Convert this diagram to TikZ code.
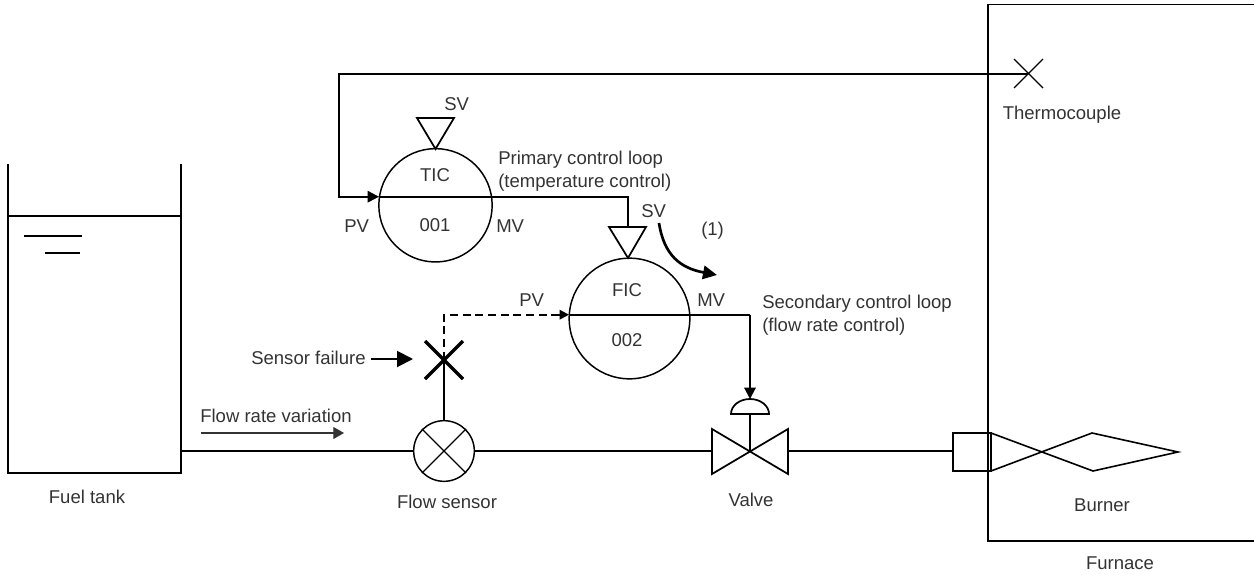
\documentclass[tikz,border=0pt]{standalone}
\usepackage{fontspec}
\setmainfont{Liberation Sans}
\usetikzlibrary{arrows.meta,calc}
\definecolor{txt}{HTML}{333333}
\tikzset{
  x=0.75pt,y=-0.75pt,
  thin line/.style={line width=1pt,black},
  main line/.style={line width=1.5pt,black},
  tip/.style={-{Triangle[length=8.5pt,width=8.5pt]}},
  lbl/.style={inner sep=0pt,text=txt,font=\fontsize{13.9}{17.2}\selectfont},
  lblleft/.style={lbl,anchor=west,align=left},
  ctrl/.style={circle,draw,line width=1.1pt,inner sep=0pt,minimum size=84pt},
}
\begin{document}
\begin{tikzpicture}[line join=miter]
\useasboundingbox (0,0) rectangle (1254,575);
% furnace
\draw[thin line] (1254,4.7) -- (988,4.7) -- (988,541) -- (1254,541);
% tank
\draw[main line] (8,164) -- (8,473) -- (181,473) -- (181,164);
\draw[main line] (8,216) -- (181,216);
\draw[main line] (24,236) -- (82,236);
\draw[main line] (45,253) -- (80,253);
% instruments
\node[ctrl,minimum size=85pt] (tic) at (435.5,205.3) {};
\node[ctrl,minimum size=90.5pt] (fic) at (629.5,318.5) {};
\node[lbl] (tictxt) at (435,175) {TIC};
\node[lbl] (t001) at (435,225) {001};
\node[lbl] (fictxt) at (627,290) {FIC};
\node[lbl] (f002) at (627,340) {002};
% triangles
\draw[thin line,line width=1.3pt] (417,118) -- (454,118) -- (435.5,149) -- cycle;
\draw[thin line,line width=1.3pt] (609,227) -- (646,227) -- (628,258) -- cycle;
% thermocouple
\coordinate (tc) at (1028,74);
\draw[thin line] (1014,59) -- (1043,88) (1014,88) -- (1043,59);
\coordinate (ticL) at (379,196.7);
\draw[main line,tip] (tc) -- (339,74) -- (339,196.7) -- (ticL);
\draw[main line] (ticL) -- (628,196.7) -- (628,227);
% flow sensor
\node[circle,draw,line width=1.1pt,minimum size=45.5pt,inner sep=0pt] (fs) at (444,451) {};
\draw[thin line] (fs.45) -- (fs.225) (fs.135) -- (fs.315);
% valve
\coordinate (vc) at (750,451);
\draw[thin line,line width=1.3pt] (712,429) -- (712,474) -- (788,429) -- (788,474) -- cycle;
\draw[thin line,line width=1.3pt] (731,414) arc[start angle=180,end angle=360,x radius=19,y radius=15] -- cycle;
\coordinate (act) at (750,399);
\draw[main line] (750,414) -- (vc);
% burner
\node[draw,line width=1.1pt,minimum width=28.5pt,minimum height=28.5pt,inner sep=0pt] (bx) at (972,452) {};
\draw[thin line,line width=1.2pt] (991,433) -- (1093,471) -- (1178,452) -- (1092,433) -- (991,471);
% pipes
\draw[main line] (181,451) -- (fs.west);
\draw[main line] (fs.east) -- (712,451);
\draw[main line] (788,451) -- (bx.west |- vc);
% signal lines
\coordinate (xc) at (444,359.5);
\draw[main line] (fs.north) -- (xc);
\draw[main line,dash pattern=on 6pt off 3.5pt] (xc) -- (444,314.7) -- (560,314.7);
\draw[main line,-{Triangle[length=7pt,width=7pt]}] (552,314.7) -- (569,314.7);
\draw[main line] (569,314.7) -- (750,314.7);
\draw[main line,tip] (750,314.7) -- (act);
% sensor failure X
\draw[line width=2.4pt] (425,341) -- (463,379) (425,379) -- (463,341);
% labels
\node[lblleft] (sv1) at (444,104) {SV};
\node[lblleft] (pv1) at (344,226) {PV};
\node[lblleft] (mv1) at (496,226) {MV};
\node[lblleft] (prim) at (498,171.5) {Primary control loop\\(temperature control)};
\node[lblleft] (sv2) at (641,211) {SV};
\node[lblleft] (one) at (701,231) {(1)};
\node[lblleft] (pv2) at (519,300) {PV};
\node[lblleft] (mv2) at (697,300) {MV};
\node[lblleft] (sec) at (762,315) {Secondary control loop\\(flow rate control)};
\node[lblleft] (sf) at (251,358) {Sensor failure};
\node[lblleft] (frv) at (200,416) {Flow rate variation};
\node[lbl] (ft) at (87,497) {Fuel tank};
\node[lbl] (fsl) at (447,502) {Flow sensor};
\node[lbl] (vl) at (751,500) {Valve};
\node[lbl] (bl) at (1102,505) {Burner};
\node[lbl] (fl) at (1120,563) {Furnace};
\node[lbl] (tcl) at (1062,115) {Thermocouple};
% other arrows
\coordinate (sfa) at (413,359);
\draw[main line,-{Triangle[length=12pt,width=12pt]}] (371,359) -- (sfa);
\coordinate (fra) at (344,433);
\draw[line width=0.8pt,txt,-{Triangle[length=8pt,width=9pt]}] (201,433) -- (fra);
\draw[line width=2pt,-{Triangle[length=10.5pt,width=10pt]}] (659,223) .. controls (664,255) and (680,268) .. (717,275);
\end{tikzpicture}
\end{document}
